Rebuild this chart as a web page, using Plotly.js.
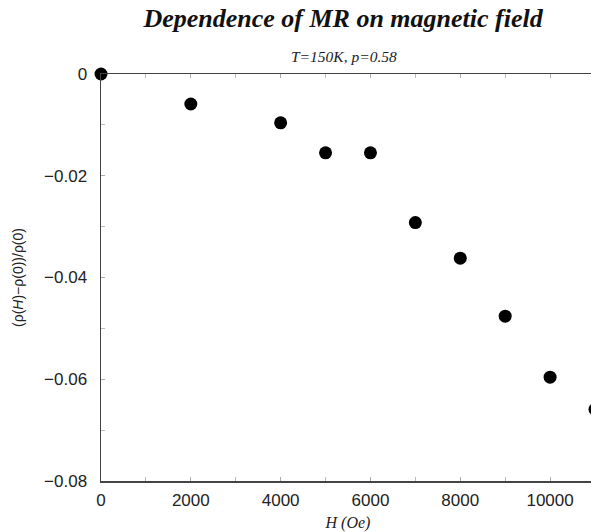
<!DOCTYPE html>
<html>
<head>
<meta charset="utf-8">
<script src="https://cdn.plot.ly/plotly-3.0.1.min.js"></script>
<style>
html, body { margin: 0; padding: 0; overflow: hidden; background: #fff; }
#chart { width: 620px; height: 532px; }
</style>
</head>
<body>
<div id="chart"></div>
<script>
// Data
const fieldH = [0, 2000, 4000, 5000, 6000, 7000, 8000, 9000, 10000, 11000];
const mrValues = [0, -0.0059, -0.0096, -0.0155, -0.0155, -0.0292, -0.0362, -0.0476, -0.0596, -0.0659];
const xTickVals = [0, 2000, 4000, 6000, 8000, 10000];
const yTickVals = [0, -0.02, -0.04, -0.06, -0.08];

const mainTitle = '<b><i>Dependence of MR on magnetic field</i></b>';
const subTitle = '<i>T=150K, p=0.58</i>';
const xTitle = '<i>H (Oe)</i>';
const yTitle = '(ρ(<i>H</i>)−ρ(0))/ρ(0)';

const trace = {
  x: fieldH,
  y: mrValues,
  type: 'scatter',
  mode: 'markers',
  marker: { color: '#000', size: 13 },
  cliponaxis: false,
  hoverinfo: 'skip'
};

const layout = {
  width: 620,
  height: 532,
  margin: { l: 101, r: 25, t: 74, b: 51 },
  paper_bgcolor: '#fff',
  plot_bgcolor: '#fff',
  showlegend: false,
  title: {
    text: mainTitle,
    font: { family: 'Liberation Serif, serif', size: 26, color: '#111' },
    xref: 'paper', x: 0.49, xanchor: 'center',
    yref: 'container', y: 0.966, yanchor: 'middle'
  },
  annotations: [{
    text: subTitle,
    xref: 'paper', x: 0.492, xanchor: 'center',
    yref: 'paper', y: 1.042, yanchor: 'middle',
    showarrow: false,
    font: { family: 'Liberation Serif, serif', size: 15.5, color: '#222' }
  }],
  xaxis: {
    range: [0, 11000],
    tickvals: xTickVals,
    tickformat: 'd',
    ticks: 'inside', ticklen: 4, tickcolor: '#aaa', tickwidth: 1,
    minor: { dtick: 1000, ticks: 'inside', ticklen: 4, tickcolor: '#bbb' },
    showline: true, linecolor: '#444', linewidth: 1.5,
    mirror: 'ticks',
    showgrid: false, zeroline: false,
    ticklabelstandoff: 3,
    tickfont: { family: 'Liberation Sans, Arial, sans-serif', size: 17, color: '#222' },
    title: { text: xTitle, font: { family: 'Liberation Serif, serif', size: 16, color: '#222' }, standoff: 8 }
  },
  yaxis: {
    range: [-0.08, 0],
    tickvals: yTickVals,
    tickformat: '.2~f',
    ticks: 'inside', ticklen: 4, tickcolor: '#aaa', tickwidth: 1,
    minor: { dtick: 0.01, ticks: 'inside', ticklen: 4, tickcolor: '#bbb' },
    showline: true, linecolor: '#444', linewidth: 1.5,
    mirror: 'ticks',
    showgrid: false, zeroline: false,
    ticklabelstandoff: 9,
    tickfont: { family: 'Liberation Sans, Arial, sans-serif', size: 17, color: '#222' },
    title: { text: yTitle, font: { family: 'Liberation Sans, Arial, sans-serif', size: 14, color: '#222' }, standoff: 17 }
  }
};

Plotly.newPlot('chart', [trace], layout, { displayModeBar: false, staticPlot: true });
</script>
</body>
</html>
